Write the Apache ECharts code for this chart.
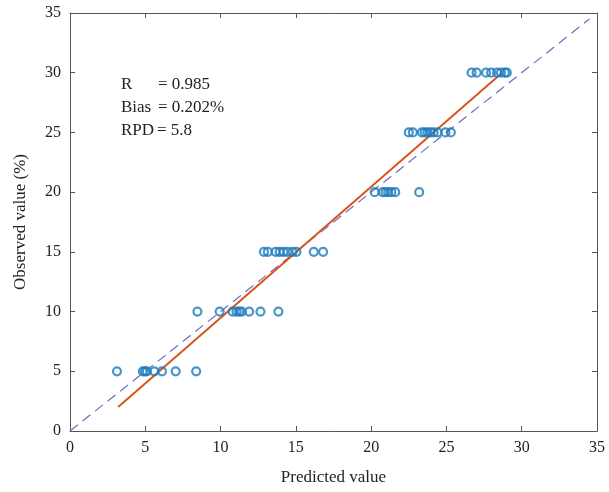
<!DOCTYPE html>
<html><head><meta charset="utf-8">
<script src="https://cdn.jsdelivr.net/npm/echarts@6/dist/echarts.min.js"></script>
<style>html,body{margin:0;padding:0;background:#fff}#c{width:609px;height:492px}</style>
</head><body><div id="c"></div>
<script>
const predicted5 = [3.12, 4.84, 4.98, 5.1, 5.6, 6.11, 7.02, 8.38];
const predicted10 = [8.46, 9.94, 10.8, 11.06, 11.24, 11.4, 11.9, 12.65, 13.84];
const predicted15 = [12.88, 13.14, 13.66, 13.92, 14.18, 14.44, 14.78, 15.04, 16.19, 16.81];
const predicted20 = [20.24, 20.77, 20.95, 21.13, 21.34, 21.6, 23.19];
const predicted25 = [22.5, 22.77, 23.37, 23.55, 23.73, 23.94, 24.15, 24.41, 24.93, 25.29];
const predicted30 = [26.67, 27.01, 27.63, 27.97, 28.36, 28.62, 28.88, 29.01];
const observedLevels = [5, 10, 15, 20, 25, 30];
const fitLine = [[3.2, 2.0], [28.7, 30.0]];
const identityLine = [[0, 0], [34.5, 34.5]];
const axisTicks = [0, 5, 10, 15, 20, 25, 30, 35];
const statLabels = ['R', 'Bias', 'RPD'];
const statValues = ['= 0.985', '= 0.202%', '= 5.8'];

const groups = [predicted5, predicted10, predicted15, predicted20, predicted25, predicted30];
const scatterData = [];
groups.forEach((g, i) => g.forEach(x => scatterData.push([x, observedLevels[i]])));

const FONT = '"Liberation Serif", "DejaVu Serif", serif';
const chart = echarts.init(document.getElementById('c'));
const axisCommon = {
  type: 'value', min: 0, max: 35, interval: 5,
  axisLine: { show: true, onZero: false, lineStyle: { color: '#555', width: 1 } },
  axisTick: { show: true, inside: true, length: 5, lineStyle: { color: '#555' } },
  splitLine: { show: false }
};
const graphics = [];
statLabels.forEach((l, i) => {
  const y = 76 + i * 23;
  graphics.push({ type: 'text', left: 121, top: y, style: { text: l, font: '17px ' + FONT, fill: '#222' } });
  graphics.push({ type: 'text', left: i === 2 ? 157 : 158, top: y, style: { text: statValues[i], font: '17px ' + FONT, fill: '#222' } });
});
chart.setOption({
  animation: false,
  grid: { left: 70, right: 12, top: 13, bottom: 61, containLabel: false },
  xAxis: [
    Object.assign({}, axisCommon, {
      position: 'bottom',
      name: 'Predicted value', nameLocation: 'middle', nameGap: 38,
      nameTextStyle: { fontFamily: FONT, fontSize: 17, color: '#222' },
      axisLabel: { fontFamily: FONT, fontSize: 16, color: '#222', margin: 9 }
    }),
    Object.assign({}, axisCommon, { position: 'top', axisLabel: { show: false } })
  ],
  yAxis: [
    Object.assign({}, axisCommon, {
      position: 'left',
      name: 'Observed value (%)', nameLocation: 'middle', nameGap: 41, nameRotate: 90,
      nameTextStyle: { fontFamily: FONT, fontSize: 17, color: '#222' },
      axisLabel: { fontFamily: FONT, fontSize: 16, color: '#222', margin: 9 }
    }),
    Object.assign({}, axisCommon, { position: 'right', axisLabel: { show: false } })
  ],
  graphic: graphics,
  series: [
    {
      type: 'line', data: identityLine, showSymbol: false, symbol: 'none',
      lineStyle: { color: '#6f6cc0', width: 1.2, type: [10, 6] }, z: 2
    },
    {
      type: 'line', data: fitLine, showSymbol: false, symbol: 'none',
      lineStyle: { color: '#d9541a', width: 2 }, z: 3
    },
    {
      type: 'scatter', data: scatterData, symbol: 'circle', symbolSize: 8,
      itemStyle: { color: 'rgba(255,255,255,0)', borderColor: '#1a7bbd', borderWidth: 2.2 }, z: 4
    }
  ]
});
</script></body></html>
